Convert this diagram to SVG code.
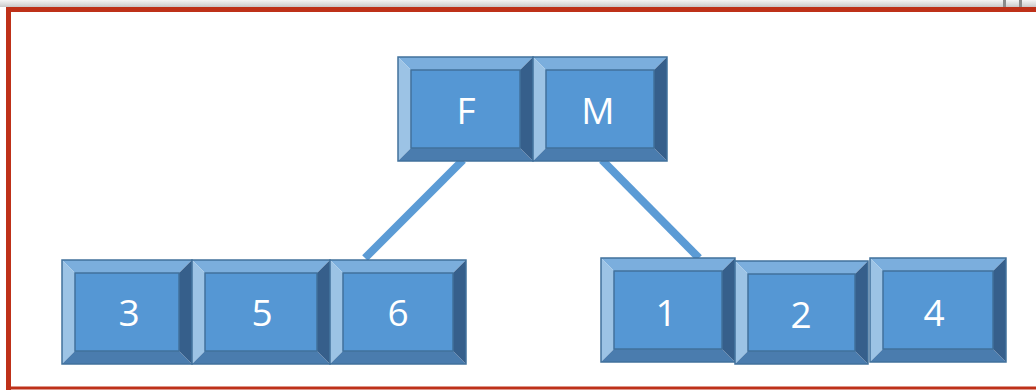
<svg xmlns="http://www.w3.org/2000/svg" width="1036" height="390" viewBox="0 0 1036 390">
<defs>
<linearGradient id="strip" x1="0" y1="0" x2="0" y2="1">
<stop offset="0" stop-color="#f4f4f4"/>
<stop offset="0.6" stop-color="#dcdcdc"/>
<stop offset="1" stop-color="#c8c8c8"/>
</linearGradient>
</defs>
<style>
.face{fill:#5597D4}
.top{fill:#7BAEDD}
.left{fill:#9CC3E5}
.bot{fill:#4A7CAE}
.right{fill:#365F8B}
.out{fill:none;stroke:#41719C;stroke-width:1.5}
.lbl{font-family:"Open Sans","Liberation Sans",sans-serif;font-size:37px;fill:#ffffff;text-anchor:middle}
.conn{stroke:#5B9BD5;stroke-width:8;fill:none}
</style>
<rect x="0" y="0" width="1036" height="390" fill="#ffffff"/>
<rect x="0" y="0" width="1036" height="7" fill="url(#strip)"/>
<rect x="1003" y="0" width="3" height="7" fill="#8a8a8a"/>
<rect x="1019" y="0" width="3" height="7" fill="#8a8a8a"/>
<path d="M8.5,390 V9.5 H1036" fill="none" stroke="#BE3119" stroke-width="5"/>
<line x1="6" y1="388" x2="1036" y2="388" stroke="#BE3119" stroke-width="3"/>

<g id="connectors">
<line class="conn" x1="463" y1="160" x2="365" y2="258"/>
<line class="conn" x1="602" y1="160" x2="699" y2="258"/>
</g>

<g id="node-F">
<rect class="face" x="411" y="70" width="109" height="78"/>
<polygon class="top" points="398,57 533,57 520,70 411,70"/>
<polygon class="left" points="398,57 411,70 411,148 398,161"/>
<polygon class="bot" points="398,161 411,148 520,148 533,161"/>
<polygon class="right" points="533,57 533,161 520,148 520,70"/>
<rect class="out" x="398" y="57" width="135" height="104"/>
<rect class="out" x="411" y="70" width="109" height="78" stroke-width="1"/>
<text class="lbl" x="466" y="124">F</text>
</g>

<g id="node-M">
<rect class="face" x="546" y="70" width="108" height="78"/>
<polygon class="top" points="533,57 667,57 654,70 546,70"/>
<polygon class="left" points="533,57 546,70 546,148 533,161"/>
<polygon class="bot" points="533,161 546,148 654,148 667,161"/>
<polygon class="right" points="667,57 667,161 654,148 654,70"/>
<rect class="out" x="533" y="57" width="134" height="104"/>
<rect class="out" x="546" y="70" width="108" height="78" stroke-width="1"/>
<text class="lbl" x="598" y="124">M</text>
</g>

<g id="node-3">
<rect class="face" x="75" y="273" width="104" height="78"/>
<polygon class="top" points="62,260 192,260 179,273 75,273"/>
<polygon class="left" points="62,260 75,273 75,351 62,364"/>
<polygon class="bot" points="62,364 75,351 179,351 192,364"/>
<polygon class="right" points="192,260 192,364 179,351 179,273"/>
<rect class="out" x="62" y="260" width="130" height="104"/>
<rect class="out" x="75" y="273" width="104" height="78" stroke-width="1"/>
<text class="lbl" x="129" y="326">3</text>
</g>

<g id="node-5">
<rect class="face" x="205" y="273" width="112" height="78"/>
<polygon class="top" points="192,260 330,260 317,273 205,273"/>
<polygon class="left" points="192,260 205,273 205,351 192,364"/>
<polygon class="bot" points="192,364 205,351 317,351 330,364"/>
<polygon class="right" points="330,260 330,364 317,351 317,273"/>
<rect class="out" x="192" y="260" width="138" height="104"/>
<rect class="out" x="205" y="273" width="112" height="78" stroke-width="1"/>
<text class="lbl" x="262" y="326">5</text>
</g>

<g id="node-6">
<rect class="face" x="343" y="273" width="110" height="78"/>
<polygon class="top" points="330,260 466,260 453,273 343,273"/>
<polygon class="left" points="330,260 343,273 343,351 330,364"/>
<polygon class="bot" points="330,364 343,351 453,351 466,364"/>
<polygon class="right" points="466,260 466,364 453,351 453,273"/>
<rect class="out" x="330" y="260" width="136" height="104"/>
<rect class="out" x="343" y="273" width="110" height="78" stroke-width="1"/>
<text class="lbl" x="398" y="326">6</text>
</g>

<g id="node-1">
<rect class="face" x="614" y="271" width="108" height="78"/>
<polygon class="top" points="601,258 735,258 722,271 614,271"/>
<polygon class="left" points="601,258 614,271 614,349 601,362"/>
<polygon class="bot" points="601,362 614,349 722,349 735,362"/>
<polygon class="right" points="735,258 735,362 722,349 722,271"/>
<rect class="out" x="601" y="258" width="134" height="104"/>
<rect class="out" x="614" y="271" width="108" height="78" stroke-width="1"/>
<text class="lbl" x="666" y="326">1</text>
</g>

<g id="node-2">
<rect class="face" x="748" y="274" width="107" height="77"/>
<polygon class="top" points="735,261 868,261 855,274 748,274"/>
<polygon class="left" points="735,261 748,274 748,351 735,364"/>
<polygon class="bot" points="735,364 748,351 855,351 868,364"/>
<polygon class="right" points="868,261 868,364 855,351 855,274"/>
<rect class="out" x="735" y="261" width="133" height="103"/>
<rect class="out" x="748" y="274" width="107" height="77" stroke-width="1"/>
<text class="lbl" x="801" y="328">2</text>
</g>

<g id="node-4">
<rect class="face" x="883" y="271" width="110" height="78"/>
<polygon class="top" points="870,258 1006,258 993,271 883,271"/>
<polygon class="left" points="870,258 883,271 883,349 870,362"/>
<polygon class="bot" points="870,362 883,349 993,349 1006,362"/>
<polygon class="right" points="1006,258 1006,362 993,349 993,271"/>
<rect class="out" x="870" y="258" width="136" height="104"/>
<rect class="out" x="883" y="271" width="110" height="78" stroke-width="1"/>
<text class="lbl" x="934" y="326">4</text>
</g>
</svg>
